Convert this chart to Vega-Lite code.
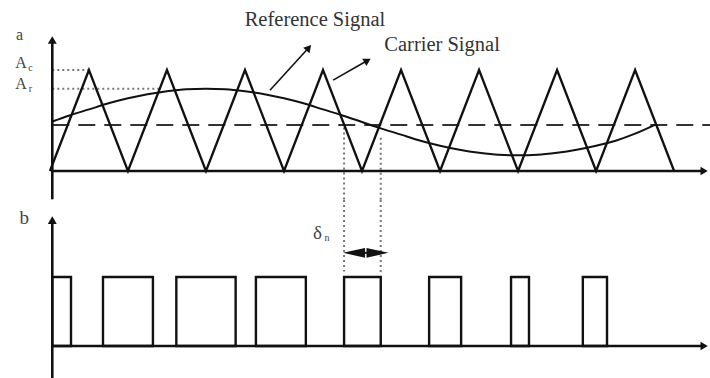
{
  "$schema": "https://vega.github.io/schema/vega-lite/v6.json",
  "background": "white",
  "padding": 0,
  "spacing": 0,
  "bounds": "flush",
  "config": {"view": {"stroke": null}, "text": {"font": "Liberation Serif", "color": "#333"}},
  "datasets": {
    "topFrame": [
      {"t": 0.03, "t2": 0.03, "v": -0.28, "v2": 1.28},
      {"t": 0.03, "t2": 8.38, "v": 0, "v2": 0}
    ],
    "topPointers": [
      {"t": 2.82, "t2": 3.317, "v": 0.8, "v2": 1.22},
      {"t": 3.63, "t2": 4.07, "v": 0.9, "v2": 1.094}
    ],
    "topHeads": [
      {"name": "yaxis", "t": 0.03, "v": 1.297},
      {"name": "xaxis", "t": 8.385, "v": 0},
      {"name": "reference", "t": 3.317, "v": 1.22},
      {"name": "carrier", "t": 4.07, "v": 1.094}
    ],
    "carrier": [
      {"t": 0, "v": 0}, {"t": 0.5, "v": 1}, {"t": 1, "v": 0}, {"t": 1.5, "v": 1},
      {"t": 2, "v": 0}, {"t": 2.5, "v": 1}, {"t": 3, "v": 0}, {"t": 3.5, "v": 1},
      {"t": 4, "v": 0}, {"t": 4.5, "v": 1}, {"t": 5, "v": 0}, {"t": 5.5, "v": 1},
      {"t": 6, "v": 0}, {"t": 6.5, "v": 1}, {"t": 7, "v": 0}, {"t": 7.5, "v": 1},
      {"t": 8, "v": 0}
    ],
    "reference": [
      {"t": 0.03, "v": 0.49}, {"t": 0.25, "v": 0.55}, {"t": 0.5, "v": 0.61}, {"t": 0.75, "v": 0.67},
      {"t": 1.0, "v": 0.72}, {"t": 1.25, "v": 0.76}, {"t": 1.5, "v": 0.79}, {"t": 1.75, "v": 0.81},
      {"t": 2.0, "v": 0.815}, {"t": 2.25, "v": 0.81}, {"t": 2.5, "v": 0.79}, {"t": 2.75, "v": 0.76},
      {"t": 3.0, "v": 0.72}, {"t": 3.25, "v": 0.67}, {"t": 3.5, "v": 0.61}, {"t": 3.75, "v": 0.55},
      {"t": 4.0, "v": 0.485}, {"t": 4.25, "v": 0.42}, {"t": 4.5, "v": 0.36}, {"t": 4.75, "v": 0.3},
      {"t": 5.0, "v": 0.25}, {"t": 5.25, "v": 0.21}, {"t": 5.5, "v": 0.18}, {"t": 5.75, "v": 0.16},
      {"t": 6.0, "v": 0.155}, {"t": 6.25, "v": 0.16}, {"t": 6.5, "v": 0.18}, {"t": 6.75, "v": 0.21},
      {"t": 7.0, "v": 0.25}, {"t": 7.25, "v": 0.3}, {"t": 7.5, "v": 0.37}, {"t": 7.76, "v": 0.46}
    ],
    "dashed": [
      {"t": 0.03, "t2": 8.46, "v": 0.455, "v2": 0.455}
    ],
    "topGuides": [
      {"t": 0.03, "t2": 0.5, "v": 1, "v2": 1},
      {"t": 0.03, "t2": 1.4, "v": 0.815, "v2": 0.815},
      {"t": 3.77, "t2": 3.77, "v": 0.43, "v2": -0.287},
      {"t": 4.24, "t2": 4.24, "v": 0.33, "v2": -0.287}
    ],
    "topLabels": [
      {"t": 3.397, "v": 1.495, "label": "Reference Signal"},
      {"t": 5.026, "v": 1.248, "label": "Carrier Signal"}
    ],
    "topSymbols": [
      {"t": -0.39, "v": 1.35, "label": "a"},
      {"t": -0.37, "v": 1.065, "label": "A"},
      {"t": -0.37, "v": 0.857, "label": "A"}
    ],
    "topSubscripts": [
      {"t": -0.25, "v": 1.02, "label": "c"},
      {"t": -0.25, "v": 0.812, "label": "r"}
    ],
    "bottomFrame": [
      {"t": 0.03, "t2": 0.03, "v": -0.464, "v2": 1.8},
      {"t": 0.03, "t2": 8.38, "v": 0, "v2": 0}
    ],
    "bottomHeads": [
      {"name": "yaxis", "t": 0.03, "v": 1.826},
      {"name": "xaxis", "t": 8.385, "v": 0},
      {"name": "left", "t": 3.898, "v": 1.35},
      {"name": "right", "t": 4.198, "v": 1.35}
    ],
    "pulses": [
      {"t": 0.03, "t2": 0.27, "v": 0, "v2": 1},
      {"t": 0.68, "t2": 1.32, "v": 0, "v2": 1},
      {"t": 1.62, "t2": 2.38, "v": 0, "v2": 1},
      {"t": 2.64, "t2": 3.28, "v": 0, "v2": 1},
      {"t": 3.77, "t2": 4.24, "v": 0, "v2": 1},
      {"t": 4.86, "t2": 5.27, "v": 0, "v2": 1},
      {"t": 5.91, "t2": 6.14, "v": 0, "v2": 1},
      {"t": 6.83, "t2": 7.14, "v": 0, "v2": 1}
    ],
    "bottomGuides": [
      {"t": 3.77, "t2": 3.77, "v": 2.116, "v2": 1.08},
      {"t": 4.24, "t2": 4.24, "v": 2.116, "v2": 1.05}
    ],
    "deltaSpan": [
      {"t": 3.85, "t2": 4.22, "v": 1.35, "v2": 1.35}
    ],
    "bottomSymbols": [
      {"t": -0.33, "v": 1.86, "label": "b"},
      {"t": 3.43, "v": 1.64, "label": "δ"}
    ],
    "bottomSubscripts": [
      {"t": 3.55, "v": 1.57, "label": "n"}
    ]
  },
  "vconcat": [
    {
      "width": 710,
      "height": 200,
      "encoding": {
        "x": {"field": "t", "type": "quantitative", "scale": {"domain": [-0.64, 8.46], "nice": false, "zero": false}, "axis": null},
        "y": {"field": "v", "type": "quantitative", "scale": {"domain": [-0.287, 1.693], "nice": false, "zero": false}, "axis": null}
      },
      "layer": [
        {
          "data": {"name": "topGuides"},
          "mark": {"type": "rule", "color": "#777", "strokeWidth": 2, "strokeDash": [2, 3]},
          "encoding": {"x2": {"field": "t2"}, "y2": {"field": "v2"}}
        },
        {
          "data": {"name": "dashed"},
          "mark": {"type": "rule", "color": "#333", "strokeWidth": 2, "strokeDash": [17, 9]},
          "encoding": {"x2": {"field": "t2"}, "y2": {"field": "v2"}}
        },
        {
          "data": {"name": "topFrame"},
          "mark": {"type": "rule", "color": "#111", "strokeWidth": 2.6},
          "encoding": {"x2": {"field": "t2"}, "y2": {"field": "v2"}}
        },
        {
          "data": {"name": "carrier"},
          "mark": {"type": "line", "color": "#111", "strokeWidth": 2.3},
          "encoding": {}
        },
        {
          "data": {"name": "reference"},
          "mark": {"type": "line", "color": "#111", "strokeWidth": 2, "interpolate": "monotone"},
          "encoding": {}
        },
        {
          "data": {"name": "topPointers"},
          "mark": {"type": "rule", "color": "#111", "strokeWidth": 1.6},
          "encoding": {"x2": {"field": "t2"}, "y2": {"field": "v2"}}
        },
        {
          "data": {"name": "topHeads"},
          "transform": [{"filter": "datum.name === 'yaxis'"}],
          "mark": {"type": "point", "shape": "triangle-up", "filled": true, "color": "#111", "size": 80, "opacity": 1}
        },
        {
          "data": {"name": "topHeads"},
          "transform": [{"filter": "datum.name === 'xaxis'"}],
          "mark": {"type": "point", "shape": "triangle-right", "filled": true, "color": "#111", "size": 70, "opacity": 1}
        },
        {
          "data": {"name": "topHeads"},
          "transform": [{"filter": "datum.name === 'reference'"}],
          "mark": {"type": "point", "shape": "triangle-up", "filled": true, "color": "#111", "size": 70, "angle": 41, "opacity": 1}
        },
        {
          "data": {"name": "topHeads"},
          "transform": [{"filter": "datum.name === 'carrier'"}],
          "mark": {"type": "point", "shape": "triangle-up", "filled": true, "color": "#111", "size": 70, "angle": 60, "opacity": 1}
        },
        {
          "data": {"name": "topLabels"},
          "mark": {"type": "text", "fontSize": 20.5, "align": "center", "baseline": "middle"},
          "encoding": {"text": {"field": "label"}}
        },
        {
          "data": {"name": "topSymbols"},
          "mark": {"type": "text", "fontSize": 16, "align": "center", "baseline": "middle", "color": "#444"},
          "encoding": {"text": {"field": "label"}}
        },
        {
          "data": {"name": "topSubscripts"},
          "mark": {"type": "text", "fontSize": 10, "align": "center", "baseline": "middle", "color": "#444"},
          "encoding": {"text": {"field": "label"}}
        }
      ]
    },
    {
      "width": 710,
      "height": 178,
      "encoding": {
        "x": {"field": "t", "type": "quantitative", "scale": {"domain": [-0.64, 8.46], "nice": false, "zero": false}, "axis": null},
        "y": {"field": "v", "type": "quantitative", "scale": {"domain": [-0.464, 2.116], "nice": false, "zero": false}, "axis": null}
      },
      "layer": [
        {
          "data": {"name": "bottomGuides"},
          "mark": {"type": "rule", "color": "#777", "strokeWidth": 2, "strokeDash": [2, 3]},
          "encoding": {"x2": {"field": "t2"}, "y2": {"field": "v2"}}
        },
        {
          "data": {"name": "pulses"},
          "mark": {"type": "rect", "fillOpacity": 0, "stroke": "#111", "strokeWidth": 2.4},
          "encoding": {"x2": {"field": "t2"}, "y2": {"field": "v2"}}
        },
        {
          "data": {"name": "bottomFrame"},
          "mark": {"type": "rule", "color": "#111", "strokeWidth": 2.6},
          "encoding": {"x2": {"field": "t2"}, "y2": {"field": "v2"}}
        },
        {
          "data": {"name": "deltaSpan"},
          "mark": {"type": "rule", "color": "#111", "strokeWidth": 2},
          "encoding": {"x2": {"field": "t2"}, "y2": {"field": "v2"}}
        },
        {
          "data": {"name": "bottomHeads"},
          "transform": [{"filter": "datum.name === 'yaxis'"}],
          "mark": {"type": "point", "shape": "triangle-up", "filled": true, "color": "#111", "size": 80, "opacity": 1}
        },
        {
          "data": {"name": "bottomHeads"},
          "transform": [{"filter": "datum.name === 'xaxis'"}],
          "mark": {"type": "point", "shape": "triangle-right", "filled": true, "color": "#111", "size": 70, "opacity": 1}
        },
        {
          "data": {"name": "bottomHeads"},
          "transform": [{"filter": "datum.name === 'left'"}],
          "mark": {"type": "point", "shape": "M-1,0L1,-0.45L1,0.45Z", "filled": true, "color": "#111", "size": 484, "opacity": 1}
        },
        {
          "data": {"name": "bottomHeads"},
          "transform": [{"filter": "datum.name === 'right'"}],
          "mark": {"type": "point", "shape": "M1,0L-1,-0.45L-1,0.45Z", "filled": true, "color": "#111", "size": 484, "opacity": 1}
        },
        {
          "data": {"name": "bottomSymbols"},
          "mark": {"type": "text", "fontSize": 19, "align": "center", "baseline": "middle", "color": "#444"},
          "encoding": {"text": {"field": "label"}}
        },
        {
          "data": {"name": "bottomSubscripts"},
          "mark": {"type": "text", "fontSize": 10, "align": "center", "baseline": "middle", "color": "#444"},
          "encoding": {"text": {"field": "label"}}
        }
      ]
    }
  ]
}
